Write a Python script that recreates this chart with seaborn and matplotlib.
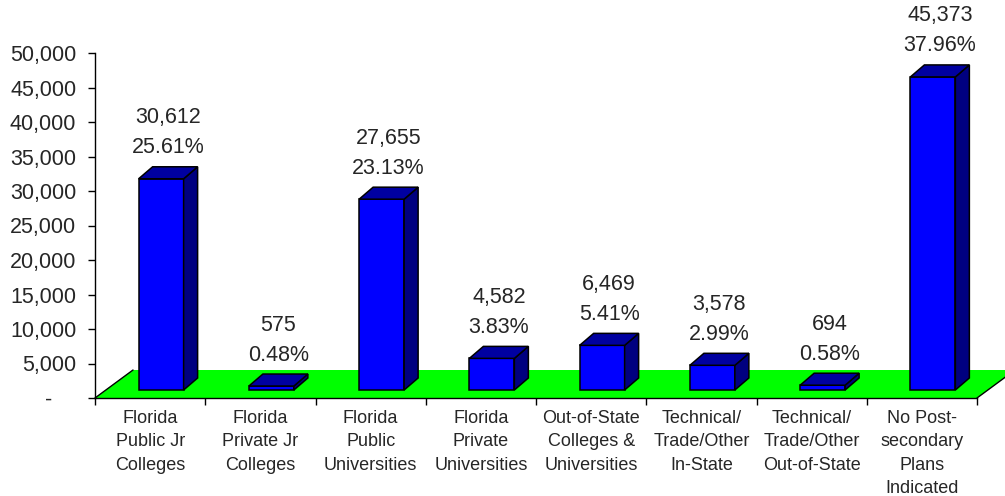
import matplotlib
matplotlib.use('Agg')
import matplotlib.pyplot as plt
import seaborn as sns
from matplotlib.patches import Polygon
from matplotlib.ticker import FixedLocator, FuncFormatter

categories = ['Florida\nPublic Jr\nColleges', 'Florida\nPrivate Jr\nColleges',
              'Florida\nPublic\nUniversities', 'Florida\nPrivate\nUniversities',
              'Out-of-State\nColleges &\nUniversities', 'Technical/\nTrade/Other\nIn-State',
              'Technical/\nTrade/Other\nOut-of-State', 'No Post-\nsecondary\nPlans\nIndicated']
students = [30612, 575, 27655, 4582, 6469, 3578, 694, 45373]
percents = ['25.61%', '0.48%', '23.13%', '3.83%', '5.41%', '2.99%', '0.58%', '37.96%']

sns.set_style('white')
plt.rcParams['font.family'] = ['Liberation Sans', 'DejaVu Sans']

fig = plt.figure(figsize=(10.05, 4.96), dpi=100)
ax = fig.add_axes([95 / 1005, 98 / 496, 882 / 1005, 345 / 496])

sns.barplot(x=list(range(len(students))), y=students, color='#0000FF', saturation=1,
            width=0.408, edgecolor='black', linewidth=1.1, ax=ax, zorder=3)

ax.set_xlim(-0.5, len(students) - 0.5)
ax.set_ylim(0, 50000)


# pixel offsets -> data offsets (axes geometry is fixed)
def px(dx, dy):
    inv = ax.transData.inverted()
    x0, y0 = inv.transform((0, 0))
    x1, y1 = inv.transform((dx, dy))
    return x1 - x0, y1 - y0


ox, oy = px(11, 8)       # bar front face sits a bit back on the floor
dx, dy = px(14, 12)      # bar depth
fx, fy = px(38, 28)      # floor depth

# green floor
x_lo, x_hi = ax.get_xlim()
floor = Polygon([(x_lo, 0), (x_hi, 0), (x_hi + fx, fy), (x_lo + fx, fy)],
                closed=True, facecolor='#00FF00', edgecolor='none', zorder=1, clip_on=False)
ax.add_patch(floor)
ax.plot([x_lo, x_lo + fx], [0, fy], color='black', lw=1, zorder=1.5, clip_on=False)
ax.plot([x_hi, x_hi + fx], [0, fy], color='black', lw=1, zorder=1.5, clip_on=False)

label_off = px(0, 31)[1]
line_gap = px(0, 30)[1]
for bar, val, pct in zip(ax.patches[:len(students)], students, percents):
    bar.set_x(bar.get_x() + ox)
    bar.set_y(oy)
    bar.set_clip_on(False)
    x0 = bar.get_x()
    x1 = x0 + bar.get_width()
    y0 = oy
    y1 = oy + val
    side = Polygon([(x1, y0), (x1 + dx, y0 + dy), (x1 + dx, y1 + dy), (x1, y1)],
                   closed=True, facecolor='#000080', edgecolor='black', lw=1.1, zorder=3,
                   clip_on=False)
    top = Polygon([(x0, y1), (x1, y1), (x1 + dx, y1 + dy), (x0 + dx, y1 + dy)],
                  closed=True, facecolor='#0000A0', edgecolor='black', lw=1.1, zorder=3,
                  clip_on=False)
    ax.add_patch(side)
    ax.add_patch(top)
    cx = (x0 + x1) / 2 + dx / 2
    ax.text(cx, y1 + label_off, pct, ha='center', va='center', fontsize=15.5, clip_on=False)
    ax.text(cx, y1 + label_off + line_gap, f'{val:,}', ha='center', va='center',
            fontsize=15.5, clip_on=False)

# axes styling
for s in ['top', 'right']:
    ax.spines[s].set_visible(False)
for s in ['left', 'bottom']:
    ax.spines[s].set_color('black')
    ax.spines[s].set_linewidth(1)
    ax.spines[s].set_zorder(2)

ax.set_yticks(range(0, 50001, 5000))
ax.yaxis.set_major_formatter(FuncFormatter(lambda v, p: '-    ' if v == 0 else f'{int(v):,}'))
ax.tick_params(axis='y', direction='out', length=5, width=1, pad=8.5, labelsize=15.5,
               left=True, color='black')

ax.xaxis.set_major_locator(FixedLocator([i - 0.5 for i in range(len(students) + 1)]))
ax.xaxis.set_minor_locator(FixedLocator(list(range(len(students)))))
ax.xaxis.set_major_formatter(FuncFormatter(lambda v, p: ''))
ax.set_xticklabels(categories, minor=True, linespacing=1.5)
ax.tick_params(axis='x', which='major', direction='out', length=5, width=1, bottom=True,
               color='black')
ax.tick_params(axis='x', which='minor', length=0, pad=8.5, labelsize=13)
ax.set_xlabel('')
ax.set_ylabel('')

fig.savefig('out.png', dpi=100)
